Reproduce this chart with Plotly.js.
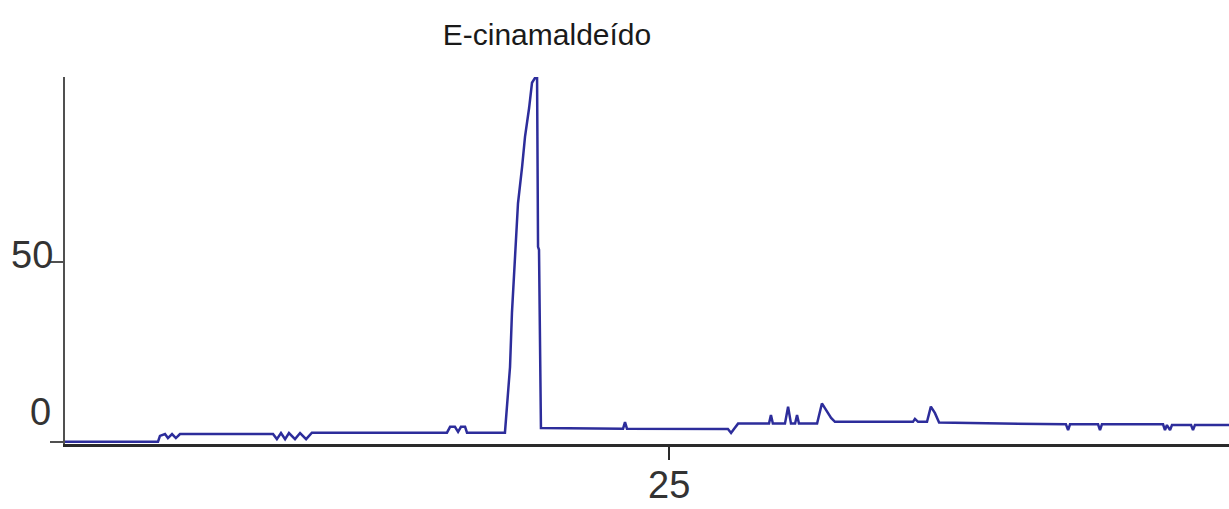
<!DOCTYPE html>
<html>
<head>
<meta charset="utf-8">
<script src="https://cdn.plot.ly/plotly-3.0.1.min.js"></script>
<style>html,body{margin:0;padding:0;background:#fff;}#chart{width:1229px;height:509px;}</style>
</head>
<body>
<div id="chart"></div>
<script>
// Retention time (min) and relative abundance (%)
const retentionTime = [
  0.00, 3.85, 3.93, 4.14, 4.26, 4.43, 4.59, 4.76, 8.61, 8.77, 8.94, 9.11, 9.27, 9.52, 9.73, 9.98, 10.22,
  15.81, 15.94, 16.14, 16.27, 16.39, 16.56, 16.64, 18.21,
  18.29, 18.42, 18.50, 18.63, 18.75, 18.92, 19.04, 19.21, 19.33, 19.45, 19.54, 19.58, 19.62, 19.70,
  23.10, 23.18, 23.26, 27.44, 27.57, 27.69, 27.86,
  29.14, 29.22, 29.30, 29.80, 29.93, 30.05, 30.22, 30.30, 30.38,
  31.13, 31.33, 31.54, 31.71, 31.87, 35.10, 35.18, 35.31, 35.68, 35.84, 36.01, 36.18,
  41.43, 41.52, 41.60, 42.76, 42.84, 42.92, 45.45, 45.53, 45.61, 45.74, 45.82, 46.61, 46.69, 46.77, 48.18
];
const abundance = [
  0.1, 0.1, 1.7, 2.2, 1.1, 2.2, 1.1, 2.2, 2.2, 0.8, 2.5, 0.8, 2.5, 0.8, 2.5, 0.8, 2.6,
  2.6, 4.2, 4.2, 2.8, 4.2, 4.2, 2.6, 2.6,
  8.9, 20.8, 35.8, 52.4, 66.2, 76.3, 84.6, 92.6, 99.6, 100.9, 100.9, 54.1, 53.3, 3.9,
  3.7, 5.5, 3.7, 3.6, 2.5, 3.6, 5.1,
  5.1, 7.5, 5.1, 5.1, 9.8, 5.1, 5.1, 7.5, 5.1,
  5.1, 10.7, 8.4, 6.7, 5.6, 5.6, 6.4, 5.6, 5.6, 9.8, 8.0, 5.4,
  4.9, 3.3, 4.9, 4.9, 3.3, 4.9, 4.9, 3.3, 4.7, 3.3, 4.7, 4.7, 3.3, 4.7, 4.7
];
const xTickVals = [25];
const xTickText = ['25'];
const yTickVals = [0, 50];
const yTickText = ['0', '50'];
const peakLabel = 'E-cinamaldeído';

const sans = '"Liberation Sans", Arial, sans-serif';
const tickFont = {family: sans, size: 38, color: '#333333'};

const trace = {
  x: retentionTime,
  y: abundance,
  type: 'scatter',
  mode: 'lines',
  line: {color: 'rgb(45,45,155)', width: 2.5},
  hoverinfo: 'skip'
};

const layout = {
  width: 1229,
  height: 509,
  margin: {l: 65, r: 0, t: 77, b: 65, pad: 0},
  paper_bgcolor: '#ffffff',
  plot_bgcolor: '#ffffff',
  showlegend: false,
  title: {
    text: peakLabel,
    font: {family: sans, size: 30, color: '#1a1a1a'},
    xref: 'container', yref: 'container',
    x: 547 / 1229, xanchor: 'center',
    y: 1 - 34 / 509, yanchor: 'middle'
  },
  xaxis: {
    range: [0, 48.18],
    showgrid: false,
    zeroline: false,
    showline: true,
    linecolor: '#2a2a2a',
    linewidth: 2.5,
    ticks: 'outside',
    ticklen: 13,
    tickwidth: 2,
    tickcolor: '#2a2a2a',
    tickvals: xTickVals,
    showticklabels: false
  },
  yaxis: {
    range: [-0.55, 101.2],
    showgrid: false,
    zeroline: false,
    showline: true,
    linecolor: '#505050',
    linewidth: 2,
    ticks: 'outside',
    ticklen: 13,
    tickwidth: 2,
    tickcolor: '#505050',
    tickvals: yTickVals,
    showticklabels: false
  },
  annotations: [
    {text: xTickText[0], xref: 'x', yref: 'paper', x: xTickVals[0], y: 0, xanchor: 'center', yanchor: 'middle',
     yshift: -41, showarrow: false, font: tickFont},
    {text: yTickText[1], xref: 'paper', yref: 'y', x: 0, y: yTickVals[1], xanchor: 'right', yanchor: 'middle',
     xshift: -10, yshift: 7, showarrow: false, font: tickFont},
    {text: yTickText[0], xref: 'paper', yref: 'y', x: 0, y: yTickVals[0], xanchor: 'center', yanchor: 'middle',
     xshift: -25, yshift: 30, showarrow: false, font: tickFont}
  ]
};

Plotly.newPlot('chart', [trace], layout, {displayModeBar: false, staticPlot: true});
</script>
</body>
</html>
